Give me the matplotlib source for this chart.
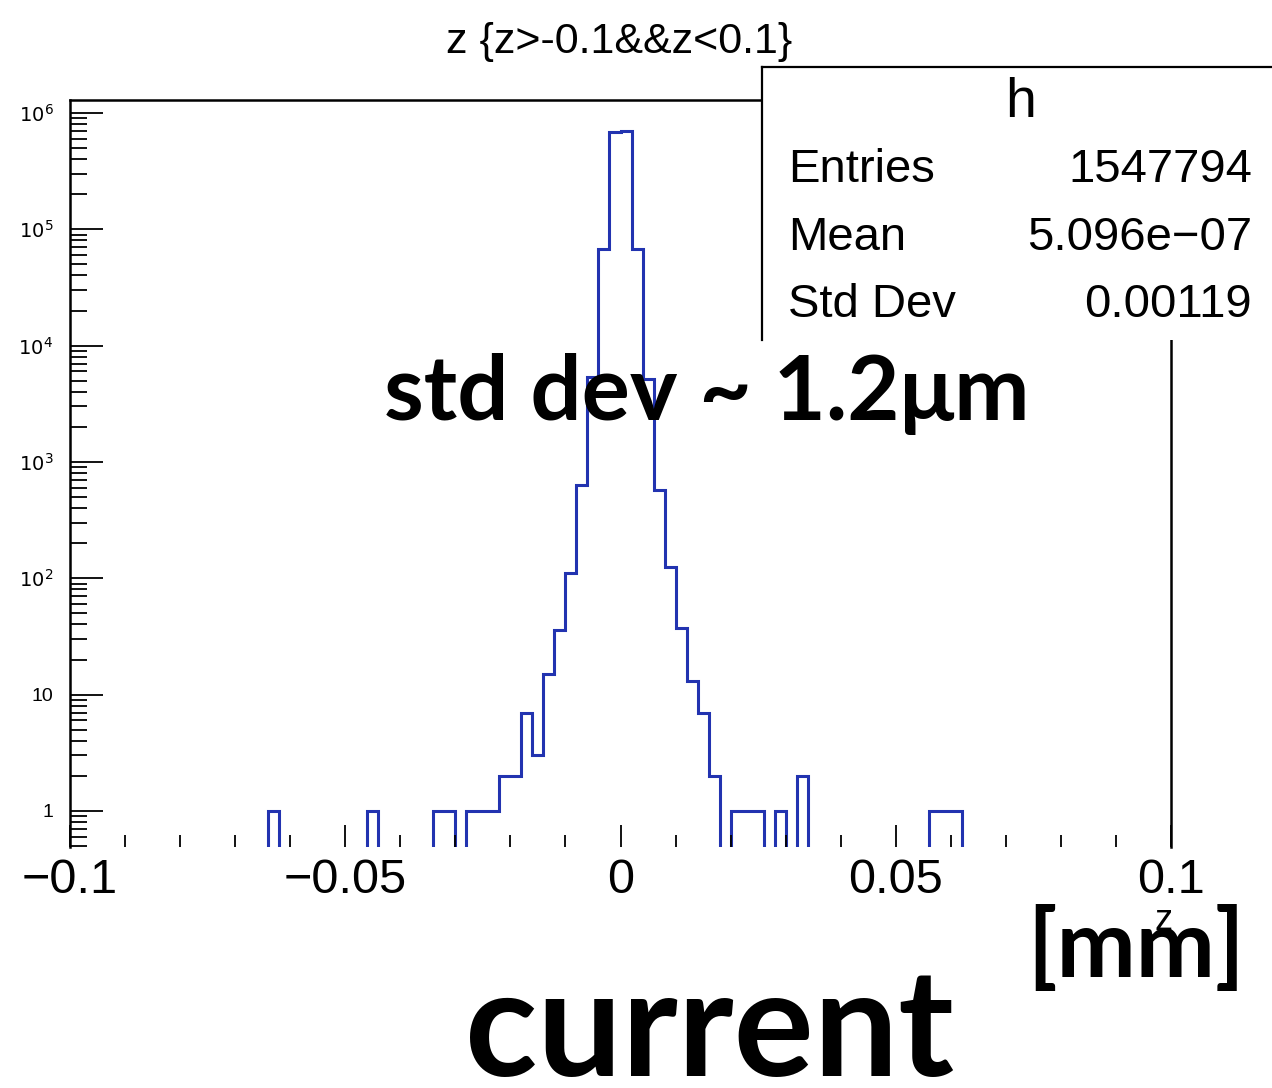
import numpy as np
import matplotlib
matplotlib.use("Agg")
import matplotlib.pyplot as plt
from matplotlib.ticker import MultipleLocator, LogLocator, FuncFormatter, NullFormatter
from matplotlib.patches import Rectangle
from matplotlib.lines import Line2D

# ---------------- data ----------------
x_min, x_max = -0.1, 0.1
n_bins = 100
bin_low_edges = [-0.064, -0.046, -0.034, -0.032, -0.028, -0.026, -0.024,
                 -0.022, -0.020, -0.018, -0.016, -0.014, -0.012, -0.010,
                 -0.008, -0.006, -0.004, -0.002, 0.000, 0.002, 0.004,
                 0.006, 0.008, 0.010, 0.012, 0.014, 0.016, 0.020, 0.022,
                 0.024, 0.028, 0.032, 0.056, 0.058, 0.060]
bin_counts = [1, 1, 1, 1, 1, 1, 1,
              2, 2, 7, 3, 15, 36, 111,
              632, 5400, 68000, 690000, 695000, 68000, 5200,
              573, 125, 37, 13, 7, 2, 1, 1,
              1, 1, 2, 1, 1, 1]
x_major_ticks = [-0.1, -0.05, 0, 0.05, 0.1]
x_tick_labels = ["\u22120.1", "\u22120.05", "0", "0.05", "0.1"]
title_text = "z {z>-0.1&&z<0.1}"
stats_title = "h"
stats_labels = ["Entries", "Mean", "Std Dev"]
stats_values = ["1547794", "5.096e\u221207", "0.00119"]

# ---------------- build histogram ----------------
edges = np.linspace(x_min, x_max, n_bins + 1)
bin_w = (x_max - x_min) / n_bins
counts = np.zeros(n_bins)
idx = np.round((np.array(bin_low_edges) - x_min) / bin_w).astype(int)
counts[idx] = bin_counts
plot_vals = np.where(counts > 0, counts, 1e-3)

W, H = 1272, 1088
fig = plt.figure(figsize=(W / 100, H / 100), dpi=100)
fig.patch.set_facecolor("white")

def fx(px):
    return px / W

def fy(py):
    return 1 - py / H

ax = fig.add_axes([fx(70), fy(847), fx(1171) - fx(70), fy(100) - fy(847)])
ax.stairs(plot_vals, edges, baseline=None, color="#2233b0", linewidth=2.2)
ax.set_yscale("log")
ax.set_xlim(x_min, x_max)
ax.set_ylim(0.489, 1.29e6)

for s in ["left", "top", "right"]:
    ax.spines[s].set_linewidth(1.8)
    ax.spines[s].set_color("black")
ax.spines["bottom"].set_visible(False)

lab_font = "Liberation Sans"
ax.set_xticks(x_major_ticks)
ax.set_xticklabels(x_tick_labels, fontsize=35, family=lab_font)
ax.xaxis.set_minor_locator(MultipleLocator(0.01))
ax.tick_params(axis="x", which="major", direction="in", length=16, width=1.3, pad=8)
ax.tick_params(axis="x", which="minor", direction="in", length=9, width=1.3)

ax.yaxis.set_major_locator(LogLocator(base=10, numticks=20))
ax.yaxis.set_minor_locator(LogLocator(base=10, subs=np.arange(2, 10), numticks=20))
ax.yaxis.set_minor_formatter(NullFormatter())

def yfmt(v, pos):
    n = int(round(np.log10(v)))
    if n == 0:
        return "1"
    if n == 1:
        return "10"
    return r"$10^{%d}$" % n

ax.yaxis.set_major_formatter(FuncFormatter(yfmt))
ax.tick_params(axis="y", which="major", direction="in", length=24, width=1.3, pad=12, labelsize=14)
ax.tick_params(axis="y", which="minor", direction="in", length=12, width=1.3)
for t in ax.get_yticklabels():
    t.set_family(lab_font)
ax.tick_params(top=False, right=False)

# title
fig.text(fx(619), fy(42), title_text, ha="center", va="center",
         fontsize=31, family=lab_font, color="black")

# stats box
fig.add_artist(Rectangle((fx(762), fy(340)), 1.0, fy(67) - fy(340),
                         transform=fig.transFigure, facecolor="white",
                         edgecolor="none", zorder=5))
fig.add_artist(Line2D([fx(762), fx(762)], [fy(340), fy(67)],
                      transform=fig.transFigure, color="black", lw=1.6, zorder=6))
fig.add_artist(Line2D([fx(762), 1.0], [fy(67), fy(67)],
                      transform=fig.transFigure, color="black", lw=1.6, zorder=6))
fig.text(fx(1021), fy(103), stats_title, ha="center", va="center",
         fontsize=40, family=lab_font, zorder=7)
for i, (lab, val) in enumerate(zip(stats_labels, stats_values)):
    yy = fy(170 + i * 67.5)
    fig.text(fx(788), yy, lab, ha="left", va="center", fontsize=34,
             family=lab_font, zorder=7)
    fig.text(fx(1252), yy, val, ha="right", va="center", fontsize=34,
             family=lab_font, zorder=7)

# axis title
fig.text(fx(1172), fy(903), "z", ha="right", va="top", fontsize=26,
         family=lab_font, zorder=7)

# overlay annotations
big_font = "Lato"
fig.text(fx(707), fy(420), "std dev ~ 1.2\u03bcm", ha="center", va="baseline",
         fontsize=65, fontweight="bold", family=big_font, zorder=8)
fig.text(fx(1136), fy(977), "[mm]", ha="center", va="baseline",
         fontsize=68, fontweight="bold", family=big_font, zorder=8)
fig.text(fx(710), fy(1076), "current", ha="center", va="baseline",
         fontsize=108, fontweight="bold", family=big_font, zorder=8)

fig.savefig("out.png", dpi=100, facecolor="white")
